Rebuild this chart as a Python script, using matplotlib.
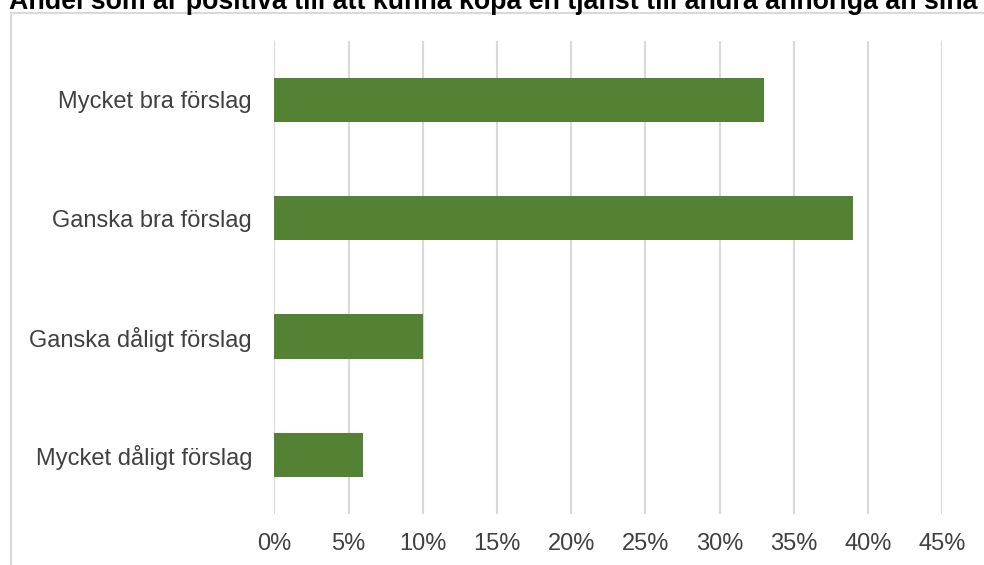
import matplotlib.pyplot as plt
from matplotlib.patches import Rectangle
from matplotlib.ticker import FuncFormatter

plt.rcParams['font.family'] = ['Liberation Sans', 'DejaVu Sans']

# Data
kategorier = ["Mycket bra förslag", "Ganska bra förslag",
              "Ganska dåligt förslag", "Mycket dåligt förslag"]
andelar = [33, 39, 10, 6]
x_ticks = [0, 5, 10, 15, 20, 25, 30, 35, 40, 45]
titel = "Andel som är positiva till att kunna köpa en tjänst till andra anhöriga än sina"

W, H = 984, 565
fig = plt.figure(figsize=(W / 100, H / 100), dpi=100)
ax = fig.add_axes([274.3 / W, 1 - 514 / H, 668 / W, 473.3 / H])

# Yttre ram (som i Excel)
fig.patches.append(Rectangle((10.5 / W, -0.1), 1.2, 1 - 12.5 / H + 0.1,
                             transform=fig.transFigure, fill=False,
                             edgecolor='#d9d9d9', linewidth=1.5, clip_on=False))

ypos = list(range(len(kategorier)))
ax.barh(ypos, andelar, height=0.377, color='#548235', zorder=3)

ax.set_xlim(0, 45)
ax.set_ylim(len(kategorier) - 0.5, -0.5)
ax.set_xticks(x_ticks)
ax.xaxis.set_major_formatter(FuncFormatter(lambda v, p: f"{v:.0f}%"))
ax.set_yticks(ypos)
ax.set_yticklabels(kategorier)

ax.grid(axis='x', color='#d9d9d9', linewidth=1.5, zorder=0)
for s in ax.spines.values():
    s.set_visible(False)
ax.tick_params(axis='both', length=0, labelsize=17, labelcolor='#404040')
ax.tick_params(axis='x', pad=14)
ax.tick_params(axis='y', pad=16)

# Titeln är avskuren upptill, precis som i originalbilden
fig.text(9 / W, 1 - 9 / H, titel, fontsize=19.3, fontweight='bold',
         color='black', ha='left', va='baseline')

fig.savefig("out.png", dpi=100)
